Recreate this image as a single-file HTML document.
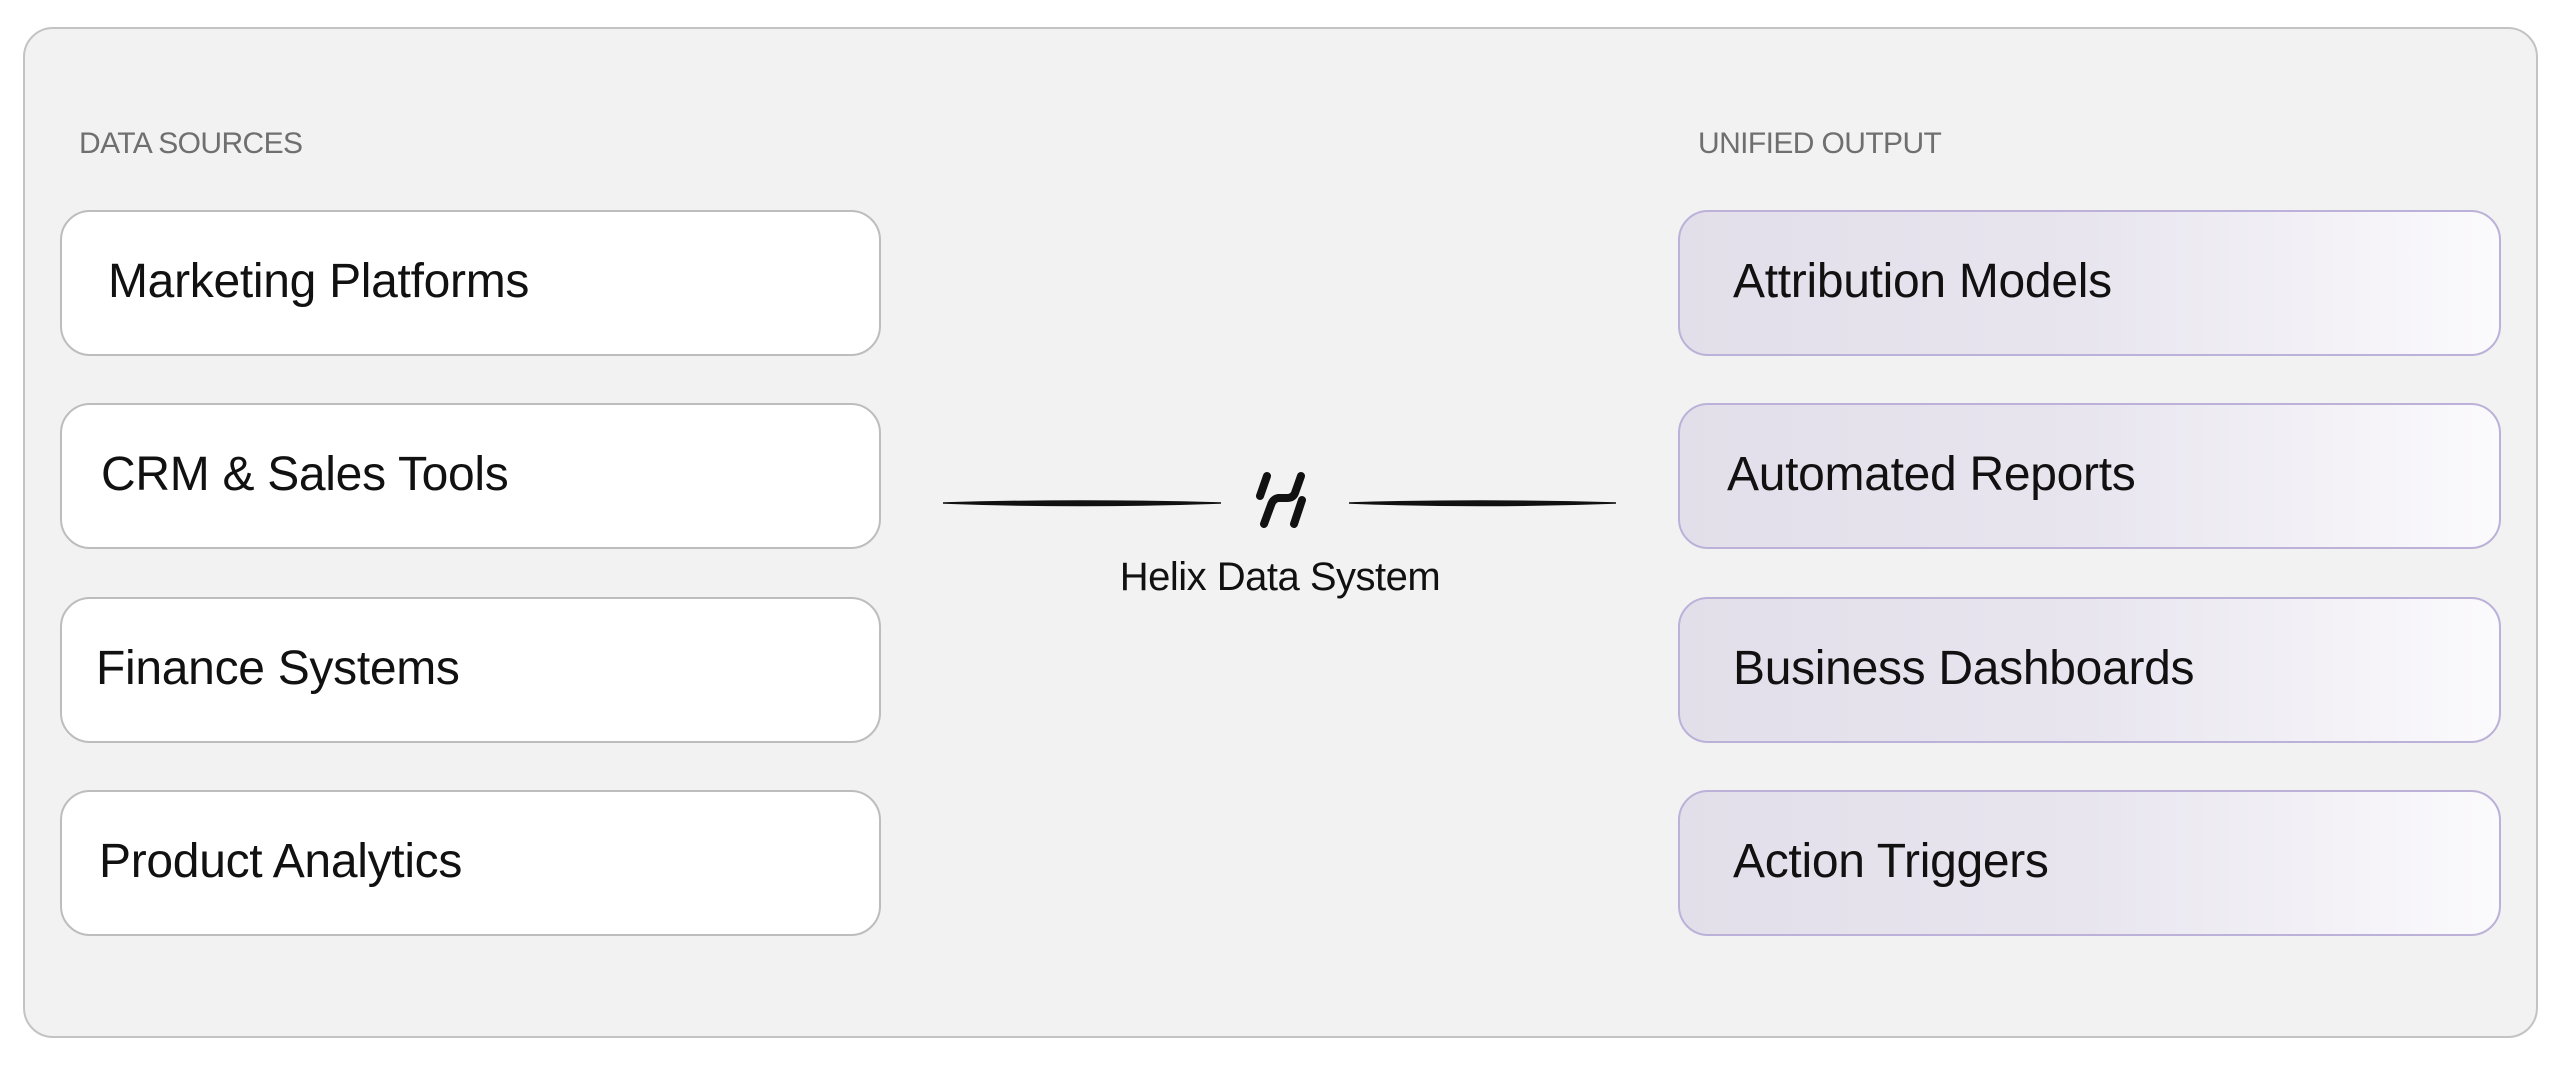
<!DOCTYPE html>
<html><head><meta charset="utf-8"><style>
html,body{margin:0;padding:0;width:2560px;height:1067px;background:#fff;overflow:hidden}
body{position:relative;font-family:"Liberation Sans",sans-serif}
.outer{position:absolute;left:23px;top:27px;width:2515px;height:1011px;background:#f2f2f2;border:2px solid #c3c3c3;border-radius:30px;box-sizing:border-box}
.title{position:absolute;font-size:30px;color:#6f6f6f;top:127px;letter-spacing:-0.6px}
.box{position:absolute;height:146px;border-radius:30px;box-sizing:border-box;font-size:48px;color:#111;line-height:140px;letter-spacing:-0.3px}
.l{left:60px;width:821px;background:#fff;border:2px solid #bdbdbd}
.r{left:1678px;width:823px;border:2px solid #bcb1d8;background:linear-gradient(90deg,#e3dfea 0%,#e8e5ef 50%,#fbfafc 100%)}
.cap{position:absolute;left:1080px;width:400px;text-align:center;top:555px;font-size:40px;color:#111;letter-spacing:-0.5px}
</style></head><body>
<div class="outer"></div>
<div class="title" style="left:79px">DATA SOURCES</div>
<div class="title" style="left:1698px">UNIFIED OUTPUT</div>
<div class="box l" style="top:210px;padding-left:46px">Marketing Platforms</div>
<div class="box l" style="top:403px;padding-left:39px">CRM &amp; Sales Tools</div>
<div class="box l" style="top:597px;padding-left:34px">Finance Systems</div>
<div class="box l" style="top:790px;padding-left:37px">Product Analytics</div>
<div class="box r" style="top:210px;padding-left:53px">Attribution Models</div>
<div class="box r" style="top:403px;padding-left:47px">Automated Reports</div>
<div class="box r" style="top:597px;padding-left:53px">Business Dashboards</div>
<div class="box r" style="top:790px;padding-left:53px">Action Triggers</div>
<svg style="position:absolute;left:0;top:0" width="2560" height="1067">
<path d="M943 503 Q1080 499 1221 503 Q1080 508 943 503 Z" fill="#111" stroke="#111" stroke-width="1.5"/>
<path d="M1349 503 Q1480 499 1616 503 Q1480 508 1349 503 Z" fill="#111" stroke="#111" stroke-width="1.5"/>
<g stroke="#111" stroke-width="8" stroke-linecap="round" fill="none">
<path d="M1267 476 L1260 496"/>
<path d="M1301 476 L1295 493 Q1293 498 1287 498 L1278 498 Q1273 499 1271 505 L1264 524"/>
<path d="M1302 500 L1294 524"/>
</g>
</svg>
<div class="cap">Helix Data System</div>
</body></html>
